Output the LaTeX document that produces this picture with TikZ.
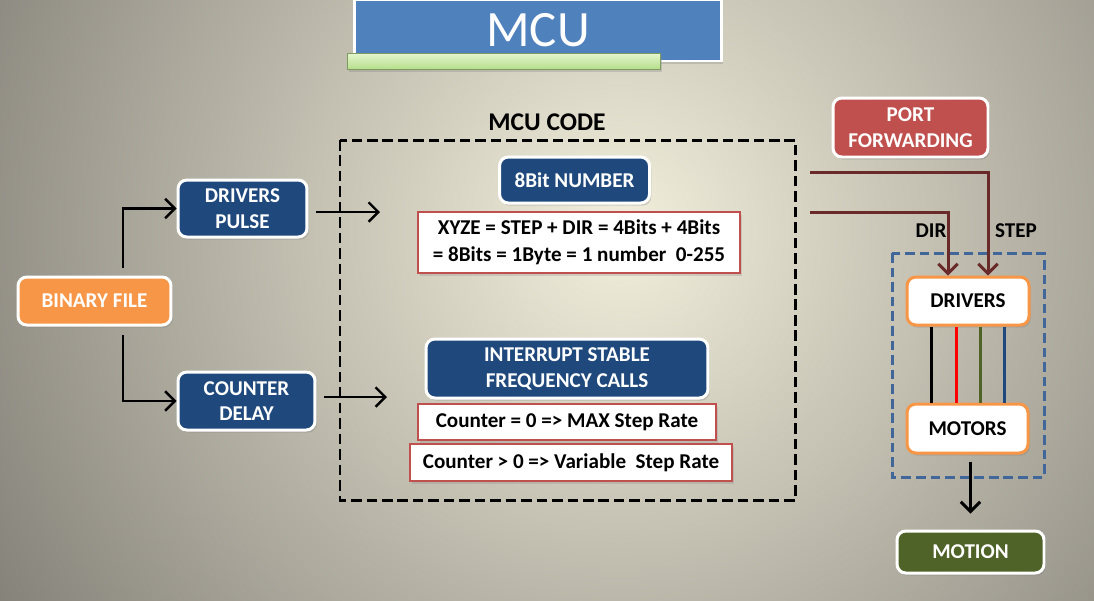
\documentclass[tikz,border=0pt]{standalone}
\usepackage{fontspec}
\setmainfont{Carlito}
\usetikzlibrary{shadows,arrows.meta}

\definecolor{bgin}{HTML}{F3EFDC}
\definecolor{bgout}{HTML}{85827A}
\definecolor{bluetitle}{HTML}{4F81BD}
\definecolor{navybox}{HTML}{1F497D}
\definecolor{orangebox}{HTML}{F79646}
\definecolor{redbox}{HTML}{C0504D}
\definecolor{olivebox}{HTML}{4F6228}
\definecolor{wirered}{HTML}{6B2A2A}
\definecolor{dashblue}{HTML}{41679A}
\definecolor{bartop}{HTML}{E6F6CF}
\definecolor{barbot}{HTML}{B6DE8A}

\tikzset{
  panel/.style={rounded corners=5pt, draw=white, line width=1.7pt, inner sep=0pt,
    align=center, text=white, font=\bfseries\fontsize{12}{14.7}\selectfont,
    drop shadow={opacity=0.3, shadow xshift=1pt, shadow yshift=-1.5pt}},
  navy/.style={panel, fill=navybox},
  orange/.style={panel, fill=orangebox},
  redpanel/.style={panel, fill=redbox},
  olive/.style={panel, fill=olivebox},
  hwbox/.style={panel, fill=white, draw=orangebox, text=black},
  rule/.style={draw=redbox, fill=white, line width=1.5pt, inner sep=0pt, align=center,
    font=\bfseries\fontsize{12}{15.3}\selectfont,
    drop shadow={opacity=0.25, shadow xshift=1pt, shadow yshift=-1.5pt}},
  label/.style={font=\bfseries\fontsize{12}{14}\selectfont},
  wire/.style={line width=1.7pt},
}

\begin{document}
\begin{tikzpicture}[x=0.02cm, y=-0.02cm, >={Straight Barb[length=5.5pt,width=11pt]}]
\useasboundingbox (0,0) rectangle (1094,600);
\fill[bgout] (0,0) rectangle (1094,600);
\shade[inner color=bgin, outer color=bgout] (620,230) circle (14.5cm);

% title
\node[draw=white, line width=1.7pt, fill=bluetitle, text=white, inner sep=0pt,
  minimum width=7.34cm, minimum height=1.24cm, font=\fontsize{29}{31}\selectfont,
  drop shadow={opacity=0.3, shadow xshift=1pt, shadow yshift=-1.5pt}] (mcu) at (538,30) {MCU};
\node[draw=barbot!70!black, line width=0.4pt, top color=bartop, bottom color=barbot,
  minimum width=6.26cm, minimum height=0.32cm, inner sep=0pt,
  drop shadow={opacity=0.3, shadow xshift=1pt, shadow yshift=-1.5pt}] (bar) at (503.5,61) {};

% mcu code frame
\node[font=\bfseries\fontsize{14.5}{16}\selectfont] (codelbl) at (547,122) {MCU CODE};
\draw[line width=1.7pt, dash pattern=on 6pt off 2.8pt] (340,140) rectangle (795,500);

\node[orange, minimum width=3.06cm, minimum height=0.96cm] (bin) at (94.5,301) {BINARY FILE};
\node[navy, minimum width=2.58cm, minimum height=1.14cm] (pulse) at (242.5,208.5) {DRIVERS\\PULSE};
\node[navy, minimum width=2.74cm, minimum height=1.16cm] (delay) at (246.5,401) {COUNTER\\DELAY};

\node[navy, minimum width=3.0cm, minimum height=0.92cm] (num) at (574.5,180) {8Bit NUMBER};
\node[rule, minimum width=6.44cm, minimum height=1.22cm] (xyze) at (579,242.5)
  {XYZE = STEP + DIR = 4Bits + 4Bits\\= 8Bits = 1Byte = 1 number\ \ 0-255};

\node[navy, minimum width=5.64cm, minimum height=1.18cm] (irq) at (567,368.5) {INTERRUPT STABLE\\FREQUENCY CALLS};
\node[rule, minimum width=5.96cm, minimum height=0.72cm] (cnt0) at (567,422) {Counter = 0 => MAX Step Rate};
\node[rule, minimum width=6.44cm, minimum height=0.74cm] (cnt1) at (571,462.5) {Counter > 0 => Variable\ \ Step Rate};

\draw[->, line width=1.4pt, shorten <=0.16cm] (123,0 |- bin.north) |- (pulse.west);
\draw[->, line width=1.4pt, shorten <=0.16cm] (123,0 |- bin.south) |- (delay.west);
\coordinate (pulseout) at (380,212);
\coordinate (delayout) at (387,397);
\draw[->, line width=1.4pt, shorten <=0.16cm] (pulse.east |- pulseout) -- (pulseout);
\draw[->, line width=1.4pt, shorten <=0.16cm] (delay.east |- delayout) -- (delayout);

% hardware side
\node[redpanel, minimum width=3.1cm, minimum height=1.18cm] (port) at (910.5,127.5) {PORT\\FORWARDING};
\draw[dashblue, line width=1.7pt, dash pattern=on 5.5pt off 2.8pt] (892,253) rectangle (1044,477);
\node[hwbox, minimum width=2.44cm, minimum height=0.96cm] (drv) at (968,301) {DRIVERS};
\node[hwbox, minimum width=2.42cm, minimum height=0.98cm] (mot) at (967.5,428.5) {MOTORS};
\node[olive, minimum width=2.94cm, minimum height=0.84cm] (motion) at (970.5,552) {MOTION};

\node[label] (dirlbl) at (931,231) {DIR};
\node[label] (steplbl) at (1016,231) {STEP};

\coordinate (stepin) at (810,172);
\coordinate (dirin) at (810,212);
\draw[->, wire, wirered] (stepin) -| ([xshift=0.4cm]drv.north);
\draw[->, wire, wirered] (dirin) -| ([xshift=-0.4cm]drv.north);

\draw[wire, black] (931,0 |- drv.south) -- (931,0 |- mot.north);
\draw[wire, red] (956,0 |- drv.south) -- (956,0 |- mot.north);
\draw[wire, olivebox] (980,0 |- drv.south) -- (980,0 |- mot.north);
\draw[wire, navybox] (1004,0 |- drv.south) -- (1004,0 |- mot.north);

\draw[->, line width=1.7pt, shorten <=0.14cm, shorten >=0.32cm] (mot.south -| motion.north) -- (motion.north);
\end{tikzpicture}
\end{document}
